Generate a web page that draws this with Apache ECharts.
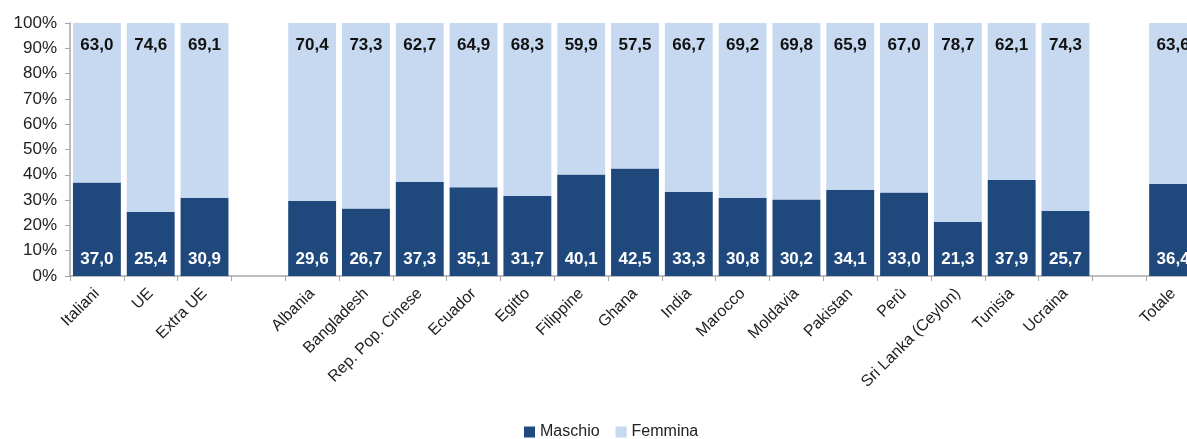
<!DOCTYPE html>
<html><head><meta charset="utf-8">
<script src="https://cdn.jsdelivr.net/npm/echarts@6/dist/echarts.min.js"></script>
<style>html,body{margin:0;padding:0;background:#fff}#c{width:1187px;height:439px}</style>
</head><body><div id="c"></div>
<script>
const categories = ['Italiani','UE','Extra UE','','Albania','Bangladesh','Rep. Pop. Cinese','Ecuador','Egitto','Filippine','Ghana','India','Marocco','Moldavia','Pakistan','Perù','Sri Lanka (Ceylon)','Tunisia','Ucraina','','Totale'];
const maschio = [37.0,25.4,30.9,null,29.6,26.7,37.3,35.1,31.7,40.1,42.5,33.3,30.8,30.2,34.1,33.0,21.3,37.9,25.7,null,36.4];
const femmina = [63.0,74.6,69.1,null,70.4,73.3,62.7,64.9,68.3,59.9,57.5,66.7,69.2,69.8,65.9,67.0,78.7,62.1,74.3,null,63.6];
const yTicks = [0,10,20,30,40,50,60,70,80,90,100];

const font = 'Liberation Sans, Arial, sans-serif';
const fmt = p => p.value == null ? '' : p.value.toFixed(1).replace('.', ',');
const chart = echarts.init(document.getElementById('c'), null, {renderer:'canvas'});
chart.setOption({
  animation:false,
  textStyle:{fontFamily:font},
  grid:{left:70, width:1130, top:23, height:253, containLabel:false, outerBoundsMode:'none'},
  legend:{
    top:424, left:524, padding:0, itemWidth:11, itemHeight:11, itemGap:16,
    icon:'rect',
    textStyle:{fontSize:16, color:'#222', fontFamily:font, padding:[0,0,0,0]},
    data:['Maschio','Femmina']
  },
  xAxis:{
    type:'category', data:categories,
    axisLine:{lineStyle:{color:'#a6a6a6', width:1.5}},
    axisTick:{show:true, length:5, lineStyle:{color:'#a6a6a6'}},
    axisLabel:{rotate:45, fontSize:16, color:'#222', margin:15, interval:0, fontFamily:font}
  },
  yAxis:{
    type:'value', min:yTicks[0], max:yTicks[yTicks.length-1], interval:10,
    splitLine:{show:false},
    axisLine:{show:true, lineStyle:{color:'#a6a6a6', width:1.5}},
    axisTick:{show:true, length:5, lineStyle:{color:'#a6a6a6'}},
    axisLabel:{formatter:'{value}%', fontSize:17, color:'#222', margin:13, fontFamily:font}
  },
  series:[
    {name:'Maschio', type:'bar', stack:'t', data:maschio, barCategoryGap:'11%',
     itemStyle:{color:'#1f497d'},
     label:{show:true, position:'insideBottom', distance:8, color:'#fff', fontWeight:'bold', fontSize:17, formatter:fmt, fontFamily:font}},
    {name:'Femmina', type:'bar', stack:'t', data:femmina, barCategoryGap:'11%',
     itemStyle:{color:'#c6d9f0'},
     label:{show:true, position:'insideTop', distance:14, color:'#111', fontWeight:'bold', fontSize:17, formatter:fmt, fontFamily:font}}
  ]
});
</script></body></html>
